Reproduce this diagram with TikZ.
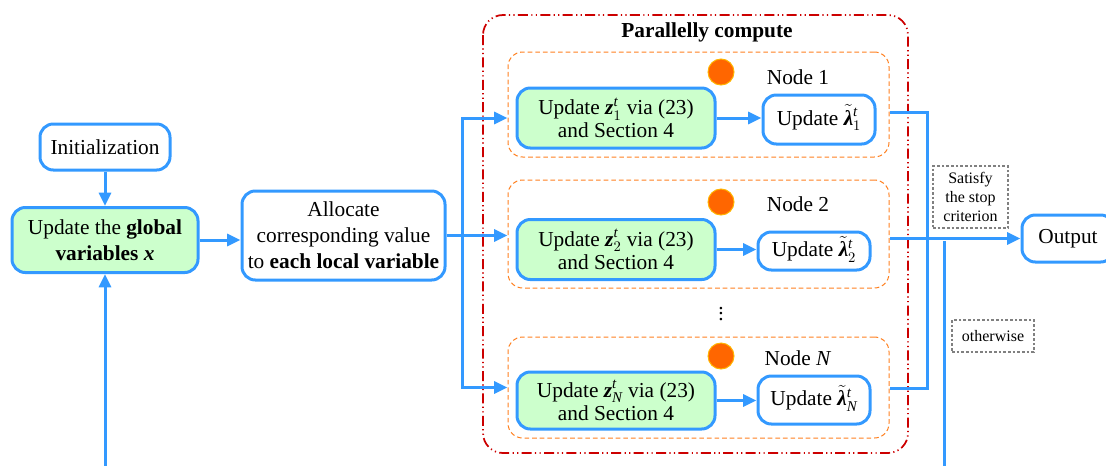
\documentclass[tikz,border=0pt]{standalone}
\usepackage{amsmath,amssymb}
\usepackage{fontspec}
\setmainfont{Liberation Serif}
\usepackage{tikz}
\usetikzlibrary{arrows.meta,calc}

\definecolor{flowblue}{RGB}{51,153,255}
\definecolor{boxgreen}{RGB}{204,255,204}
\definecolor{grporange}{RGB}{255,128,32}
\definecolor{dotorange}{RGB}{255,102,0}
\definecolor{ringyellow}{RGB}{255,180,0}
\definecolor{framered}{RGB}{204,0,0}

% bold italic letters in the text face
\newcommand{\bvec}[1]{\textbf{\textit{#1}}}
% multiplier with a tilde, scripts kept low
\newcommand{\tlam}{\smash{\tilde{\bvec{λ}}}}

\begin{document}
\begin{tikzpicture}[x=0.75pt,y=0.75pt,yscale=-1,xscale=1,
    font=\fontsize{16}{19.5}\selectfont,
    bluebox/.style={draw=flowblue,line width=2.25pt,rounded corners=10pt,align=center,inner sep=2pt},
    greenbox/.style={bluebox,fill=boxgreen,font=\fontsize{16}{17.5}\selectfont},
    nodegrp/.style={draw=grporange,line width=0.75pt,dash pattern=on 3.5pt off 2.2pt,rounded corners=11pt,minimum width=285.75pt},
    flow/.style={draw=flowblue,line width=2.25pt},
    arr/.style={flow,-{Triangle[length=10pt,width=9pt]}},
    note/.style={draw=gray,line width=0.8pt,dash pattern=on 2pt off 1.5pt,align=center,font=\fontsize{12}{14}\selectfont,inner sep=2pt},
    worker/.style={circle,fill=dotorange,draw=ringyellow,line width=0.75pt,minimum size=19.5pt,inner sep=0pt}
]
    \useasboundingbox (0,0) rectangle (1106,465);
    \clip (0,0) rectangle (1106,465);

    % Left blocks
    \node[bluebox,minimum width=97.5pt,minimum height=34.5pt] (init) at (105,147) {Initialization};
    \node[greenbox,font=\fontsize{16}{19.5}\selectfont,minimum width=139.5pt,minimum height=48.75pt] (glob) at (105,240) {Update the \textbf{global}\\ \textbf{variables} \bvec{x}};
    \node[bluebox,minimum width=152.25pt,minimum height=66.75pt] (alloc) at (343.5,235.5) {Allocate\\corresponding value\\to \textbf{each local variable}};

    % Frame: dash-dot-dot
    \draw[framered,line width=1.3pt,dash pattern=on 7.5pt off 2.5pt on 0.9pt off 2.5pt on 0.9pt off 2.5pt,rounded corners=15pt] (483,15) rectangle (908,453);
    \node[font=\fontsize{16}{19.5}\selectfont\bfseries] (par) at (707,32) {Parallelly compute};

    % Node 1
    \node[nodegrp,minimum height=78.75pt] (grp1) at (698.5,104.5) {};
    \node[worker] (dot1) at (721,72) {};
    \node (lab1) at (798,77) {Node 1};
    \node[greenbox,minimum width=148.5pt,minimum height=45pt] (z1) at (616,118) {Update $\bvec{z}_1^{\textit{t}}$ via (23)\\and Section 4};
    \node[bluebox,minimum width=84pt,minimum height=36.75pt] (lam1) at (819,119.5) {Update $\tlam_1^{\textit{t}}$};

    % Node 2
    \node[nodegrp,minimum height=81pt] (grp2) at (698.5,234) {};
    \node[worker] (dot2) at (721,202) {};
    \node (lab2) at (798,204) {Node 2};
    \node[greenbox,minimum width=148.5pt,minimum height=45pt] (z2) at (616,249.5) {Update $\bvec{z}_2^{\textit{t}}$ via (23)\\and Section 4};
    \node[bluebox,minimum width=84pt,minimum height=28.5pt] (lam2) at (814,251) {Update $\tlam_2^{\textit{t}}$};

    % dots
    \node (vdots) at (721,310) {$\vdots$};

    % Node N
    \node[nodegrp,minimum height=75.75pt] (grpN) at (698.5,387.5) {};
    \node[worker] (dotN) at (721,356) {};
    \node (labN) at (798,358) {Node \textit{N}};
    \node[greenbox,minimum width=148.5pt,minimum height=42.75pt] (zN) at (616,400.5) {Update $\bvec{z}_{\textit{N}}^{\textit{t}}$ via (23)\\and Section 4};
    \node[bluebox,minimum width=84pt,minimum height=36pt] (lamN) at (814,400) {Update $\tlam_{\textit{N}}^{\textit{t}}$};

    % Output and labels
    \node[bluebox,minimum width=69pt,minimum height=35.25pt] (out) at (1068,238.5) {Output};
    \node[note,minimum width=56.25pt,minimum height=46.5pt] (stop) at (970.5,197) {Satisfy\\the stop\\criterion};
    \node[note,minimum width=61.5pt,minimum height=24pt] (else) at (993,336) {otherwise};

    % Arrows
    \draw[arr] (init) -- (glob);
    \draw[arr] (glob.east) -- (glob.east -| alloc.west);
    \coordinate (split) at (462,235.5);
    \draw[arr] (alloc.east) -- (alloc.east -| grp2.west);
    \draw[arr] (split) |- (grp1.west |- z1);
    \draw[arr] (split) |- (grpN.west);
    \draw[arr] (z1.east) -- (z1.east -| lam1.west);
    \draw[arr] (z2.east) -- (z2.east -| lam2.west);
    \draw[arr] (zN.east) -- (zN.east -| lamN.west);

    % Collect results
    \coordinate (mtop) at (927,112);
    \coordinate (mbot) at (927,388);
    \draw[flow] (grp1.east |- mtop) -- (mtop) -- (mbot) -- (grpN.east |- mbot);
    \draw[arr] (grp2.east |- out.west) -- (out.west);

    % Loop back
    \coordinate (fb) at (944,241);
    \coordinate (back) at (944,500);
    \coordinate (backl) at (105,500);
    \draw[arr] (fb) -- (back) -- (backl) -- (glob.south);

\end{tikzpicture}
\end{document}
